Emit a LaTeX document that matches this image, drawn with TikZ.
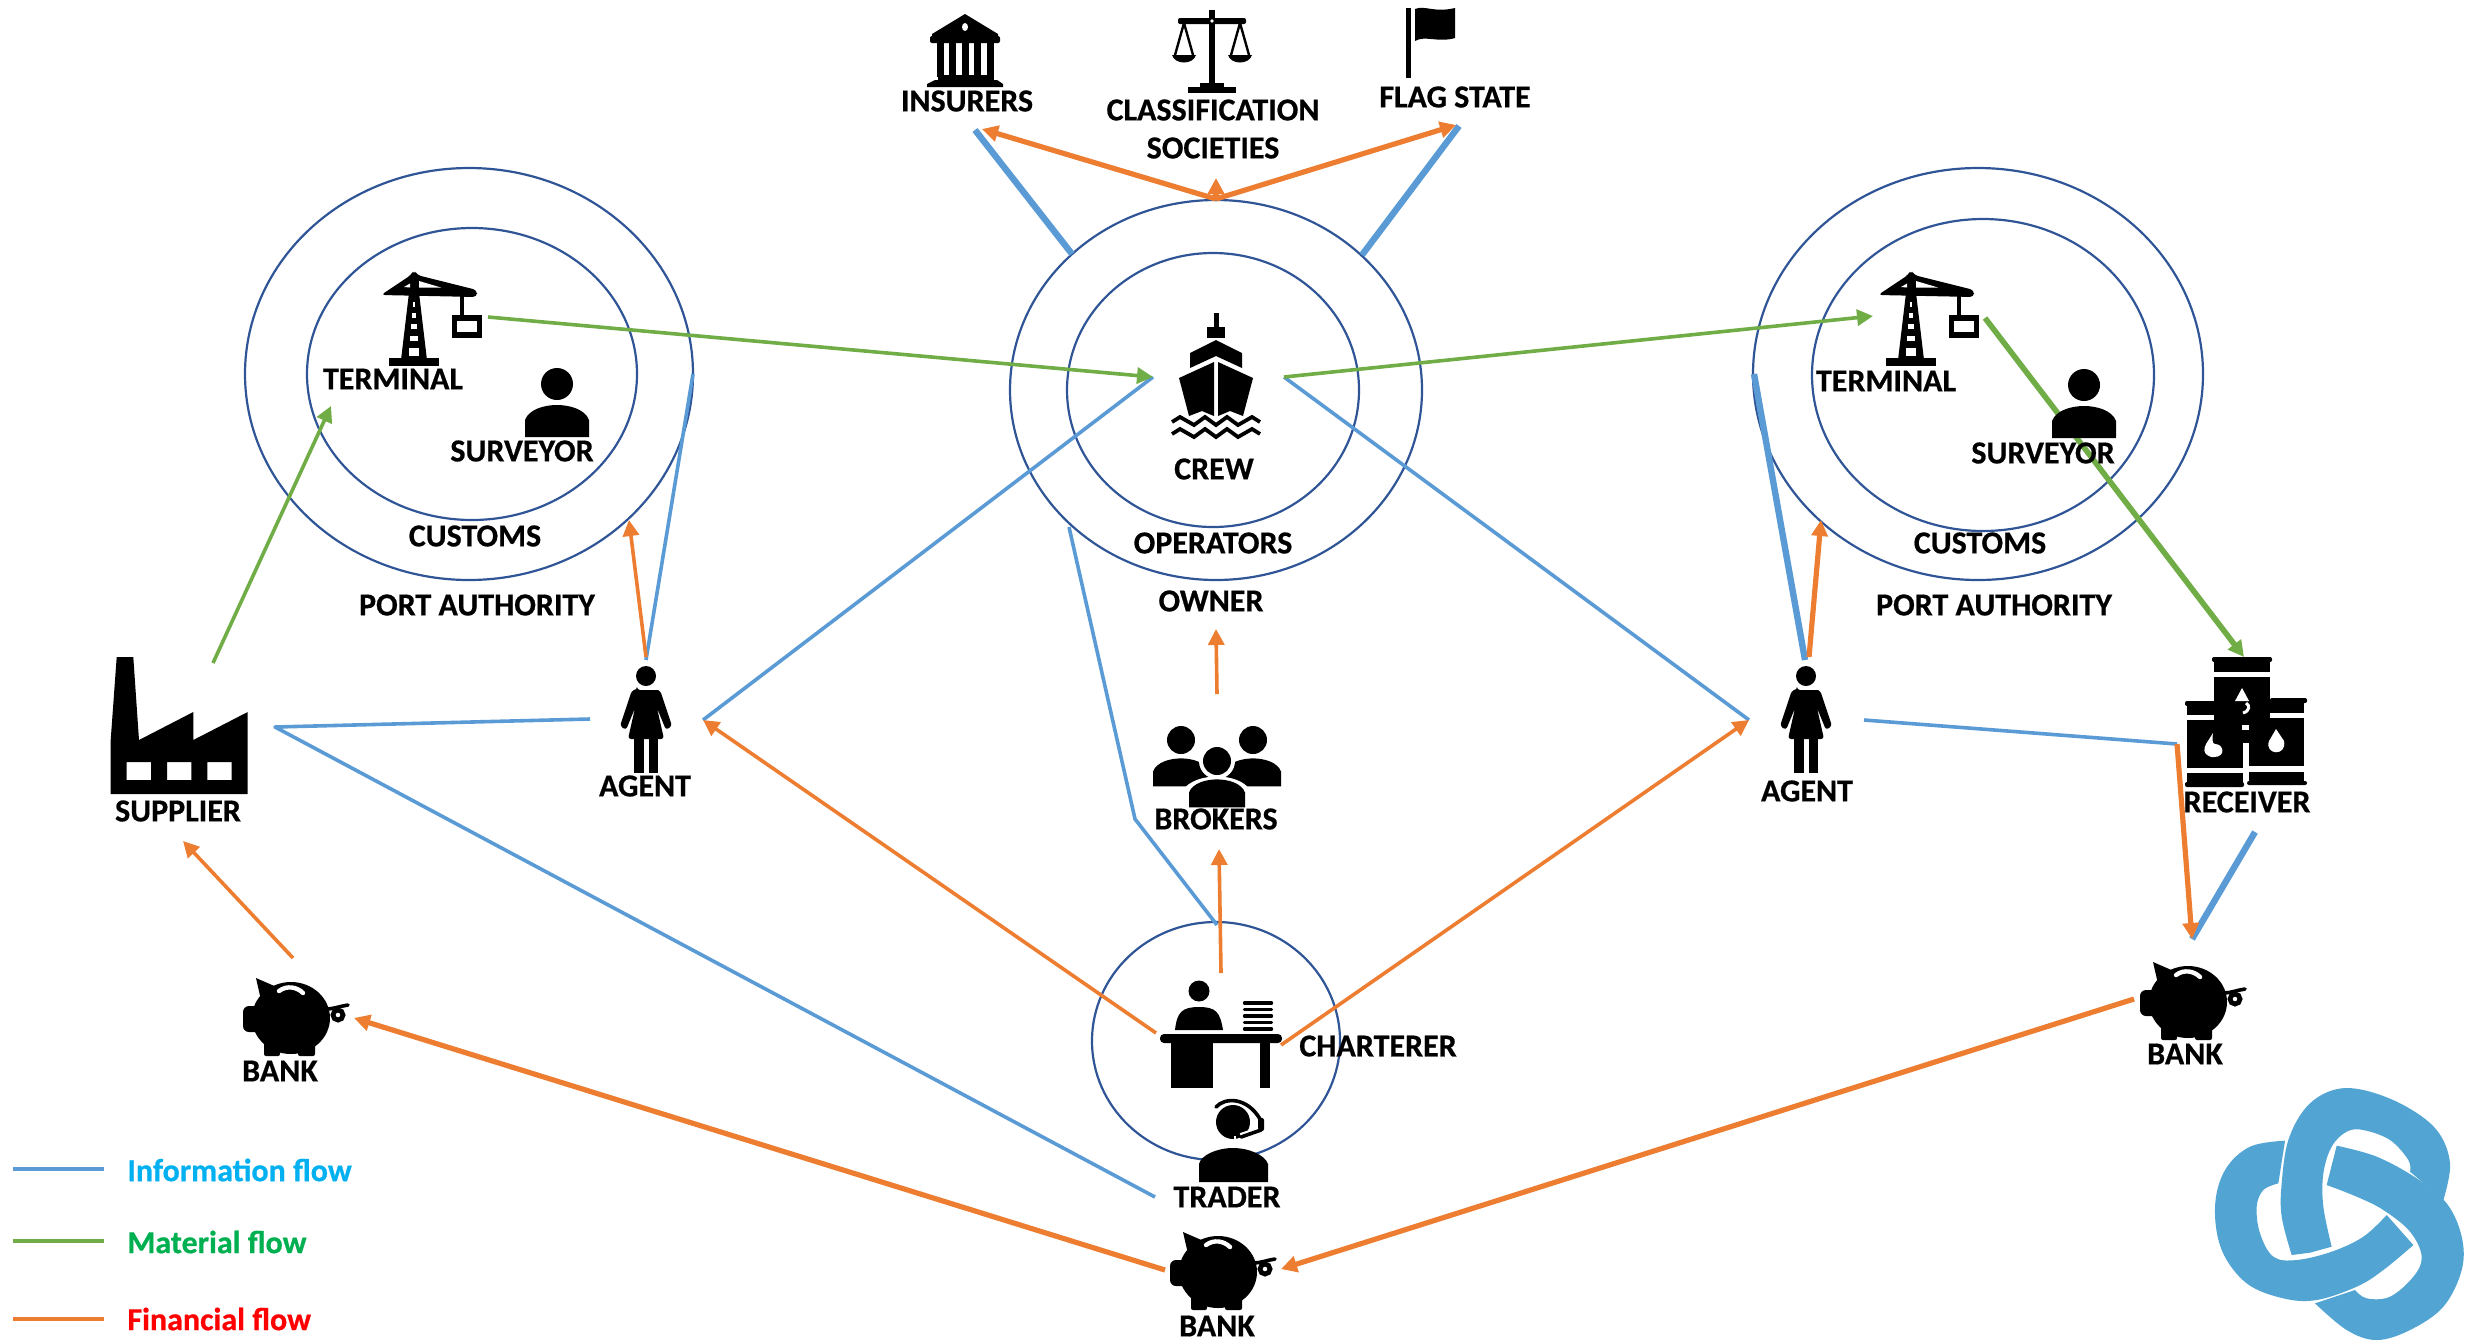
\documentclass[tikz,border=0pt]{standalone}
\usepackage{fontspec}
\setmainfont{Carlito}[BoldFeatures={FakeBold=0.6}]
\usetikzlibrary{arrows.meta,shapes.geometric}
\definecolor{ringc}{HTML}{2F5597}
\definecolor{infoc}{HTML}{5B9BD5}
\definecolor{matc}{HTML}{70AD47}
\definecolor{finc}{HTML}{ED7D31}
\definecolor{knotc}{HTML}{52A4D3}
\definecolor{infot}{HTML}{00B0F0}
\definecolor{matt}{HTML}{00B050}
\tikzset{
  ringnode/.style={ellipse,draw=ringc,line width=1.1pt,inner sep=0pt,fill=none},
  lab/.style={inner sep=0pt,font=\bfseries\fontsize{16}{16}\selectfont,text=black},
  legendlab/.style={inner sep=0pt,anchor=west,font=\bfseries\fontsize{16}{16}\selectfont},
  tipped/.style={-{Triangle[length=8pt,width=8pt]}},
  info/.style={draw=infoc,line width=1.8pt,line join=round},
  infothick/.style={draw=infoc,line width=3.2pt},
  mat/.style={draw=matc,line width=1.8pt,tipped},
  matthick/.style={draw=matc,line width=2.8pt,tipped},
  fin/.style={draw=finc,line width=1.8pt,tipped},
  finthick/.style={draw=finc,line width=2.6pt,tipped},
  pics/pigicon/.style={code={
    \fill (0,0) ellipse [x radius=39,y radius=36];
    \fill[rounded corners=3pt] (-48,-12) rectangle (-28,14);
    \fill (-35,-40) -- (-30,-18) -- (-12,-30) -- cycle;
    \fill[rounded corners=1pt] (-27,18) rectangle (-11,38);
    \fill[rounded corners=1pt] (7,18) rectangle (24,38);
    \draw[white,line width=2.2pt,line cap=round] (-12,-27) .. controls (-4,-33) and (6,-31) .. (12,-25);
    \draw[line width=1.8pt,line cap=round] (36,-9) .. controls (42,-9) and (50,-12) .. (57,-13);
    \draw[line width=2.4pt] (47,-3) circle [radius=5];
  }},
  pics/shipicon/.style={code={
    \fill (-2.5,-65) rectangle (2.5,-40);
    \fill (-9,-51) rectangle (9,-40);
    \fill (0,-38) -- (26,-25) -- (26,-10) -- (0,-22) -- (-26,-10) -- (-26,-25) -- cycle;
    \fill (-2,-16) -- (-37,0) -- (-27,38) -- (-14,33) -- (-2,38) -- cycle;
    \fill (2,-16) -- (37,0) -- (27,38) -- (14,33) -- (2,38) -- cycle;
    \foreach \w in {44,56}{
      \draw[line width=1.9pt,line join=miter] (-44,\w) -- (-36,\w-5) -- (-22,\w+3) -- (-11,\w-5) -- (0,\w+3) -- (11,\w-5) -- (22,\w+3) -- (36,\w-5) -- (44,\w);
    }
  }},
  pics/bankicon/.style={code={
    \fill (0,-37) -- (33,-17) -- (33,-11) -- (-33,-11) -- (-33,-17) -- cycle;
    \fill[rounded corners=1pt] (-35,-15) rectangle (35,-8);
    \fill[white] (0,-24) ellipse [x radius=3,y radius=4];
    \foreach \k in {-26,-13.5,-1,11.5,24}{ \fill (\k-2.5,-10) rectangle (\k+4.5,26); }
    \fill (-27,24) rectangle (29,30);
    \fill (-30,29) -- (32,29) -- (38,33) -- (38,36) -- (-38,36) -- (-38,33) -- cycle;
  }},
  pics/scalesicon/.style={code={
    \fill (-3,-38) rectangle (3,36);
    \fill[rounded corners=1pt] (-34,-30) rectangle (34,-24);
    \fill[white] (0,-27) circle [radius=1.8];
    \fill (-12,35) rectangle (12,39);
    \fill (-24,39) rectangle (24,45);
    \foreach \c in {-28,28}{
      \draw[line width=1.2pt] (\c,-25) -- (\c-9,7);
      \draw[line width=1.2pt] (\c,-25) -- (\c+9,7);
      \fill (\c-12,7) .. controls (\c-9,17) and (\c+9,17) .. (\c+12,7) -- cycle;
    }
  }},
  pics/flagicon/.style={code={
    \fill (-2.5,0) rectangle (2.5,70);
    \fill (7,1) .. controls (17,-3) and (26,5) .. (47,0) -- (47,30) .. controls (30,35) and (17,27) .. (7,33) -- cycle;
  }},
  pics/craneicon/.style={code={
    \fill (-25,90) rectangle (25,98);
    \fill (-13,92) -- (-3,8) -- (3,8) -- (13,92) -- cycle;
    \fill[rounded corners=2pt] (-33,27) -- (-3,7) -- (0,2) -- (3,7) -- (63,22) -- (63,29) -- cycle;
    \fill[white] (-10,19) -- (-4,15.5) -- (-4,19.5) -- cycle;
    \fill[white] (5,13) -- (5,19.5) -- (27,19.5) -- cycle;
    \foreach \ya/\yb/\hw in {34/39/0.8,45/50/1.6,56/61/2.8,68/73/3.7,80/88/5}{ \fill[white] (-\hw,\ya) rectangle (\hw,\yb); }
    \draw[line width=2.4pt] (48,25) -- (48,50);
    \draw[line width=2.8pt,fill=white] (40.5,50) rectangle (65.5,67);
  }},
  pics/personicon/.style={code={
    \fill (0,0) circle [radius=16];
    \fill (-32,53) -- (-32,36) .. controls (-28,25) and (-12,21) .. (0,21) .. controls (12,21) and (28,25) .. (32,36) -- (32,53) -- cycle;
  }},
  pics/womanicon/.style={code={
    \fill (0,0) circle [radius=10];
    \fill[rounded corners=1.5pt] (-9,14) -- (9,14) .. controls (13,14) and (15,17) .. (16,20) -- (26,50) -- (20,54) -- (11,32) -- (18,63) -- (-18,63) -- (-11,32) -- (-20,54) -- (-26,50) -- (-16,20) .. controls (-15,17) and (-13,14) .. (-9,14) -- cycle;
    \fill (-12,62) rectangle (-2.5,97);
    \fill (2.5,62) rectangle (12,97);
  }},
  pics/factoryicon/.style={code={
    \fill[even odd rule] (110.7,794) -- (110.7,740) -- (116.7,657) -- (133.3,657) -- (139,740) -- (193.3,712) -- (193.3,740) -- (247.7,712) -- (247.7,794) -- cycle
      (126.7,762) rectangle (151,780) (167,762) rectangle (191.3,780) (207.3,762) rectangle (231.7,780);
  }},
  pics/drumsicon/.style={code={
    \fill[rounded corners=1pt] (2212,657) rectangle (2272,662);
    \fill (2214,660) rectangle (2270,671.5);
    \fill (2214,677) rectangle (2270,722);
    \fill[rounded corners=1pt] (2185,701) rectangle (2243,706);
    \fill (2187,704) rectangle (2214,715);
    \fill (2187,720) rectangle (2243,768);
    \fill (2187,773) rectangle (2243,785);
    \fill[rounded corners=1pt] (2185,782) rectangle (2244,787);
    \fill[rounded corners=1pt] (2270,698) rectangle (2307,703);
    \fill (2270,701) rectangle (2304,713);
    \fill (2249,718) rectangle (2304,766);
    \fill (2249,772) rectangle (2304,784);
    \fill[rounded corners=1pt] (2247,781) rectangle (2307,785);
    \fill (2243,720) rectangle (2249,743);
    \fill[white] (2242,725) rectangle (2249,730);
    \fill[white] (2242,688) -- (2249,701) -- (2235,701) -- cycle;
    \draw[white,line width=1.5pt] (2246,703) .. controls (2250,705) and (2250,711) .. (2243,713);
    \fill[white] (2213,733) -- (2206,744) .. controls (2200,755) and (2212,758) .. (2214,757) .. controls (2226,757) and (2224,744) .. (2215,744) .. controls (2212,744) and (2212,738) .. (2213,733) -- cycle;
    \fill[white] (2276,729) -- (2269,741) .. controls (2264,755) and (2287,757) .. (2284,741) -- cycle;
  }},
  pics/clerkicon/.style={code={
    \fill (1199,991) circle [radius=10.5];
    \fill (1175,1030) .. controls (1177,1012) and (1182,1007) .. (1199,1007) .. controls (1216,1007) and (1220,1012) .. (1223,1030) -- cycle;
    \fill[rounded corners=2pt] (1160,1034) rectangle (1282,1043);
    \fill (1171,1040) rectangle (1213,1088);
    \fill (1260,1040) rectangle (1270,1088);
    \foreach \p in {1003,1009.5,1016,1022.5,1029}{
      \draw[line width=1.7pt,line cap=round] (1244.5,\p) -- (1271.5,\p);
    }
  }},
  pics/headseticon/.style={code={
    \fill (0,0) circle [radius=17];
    \draw[line width=1.8pt,line cap=round] (-17,-15) .. controls (-8,-25) and (14,-25) .. (27,-3);
    \fill[rounded corners=1pt] (25,-4) rectangle (31,9);
    \draw[white,line width=4pt] (26,9) -- (8,15);
    \draw[line width=1.8pt,line cap=round] (28,8) -- (8,15);
    \fill[white] (1,14) rectangle (3,20);
    \fill (-34,60) -- (-34,42) .. controls (-32,33) and (-16,26) .. (0,26) .. controls (16,26) and (32,33) .. (35,42) -- (35,60) -- cycle;
  }},
  pics/knoticon/.style={code={
    \fill[knotc] plot[smooth,tension=0.6] coordinates {(425,615) (395,500) (395,400) (415,270) (470,170) (550,120) (640,120) (760,165) (860,240) (900,340) (880,450)}
      -- plot[smooth,tension=0.6] coordinates {(780,365) (775,330) (720,270) (640,240) (590,245) (545,290) (520,370) (520,470) (545,590)} -- (480,608) -- cycle;
    \fill[knotc] plot[smooth,tension=0.6] coordinates {(405,272) (300,290) (225,360) (195,470) (215,600) (290,700) (400,745) (500,750) (620,710) (700,660) (790,585)}
      -- plot[smooth,tension=0.6] coordinates {(710,495) (640,560) (545,605) (440,630) (370,620) (330,550) (320,470) (340,420) (385,400)} -- cycle;
    \fill[knotc] plot[smooth,tension=0.6] coordinates {(560,287) (680,320) (800,385) (890,460) (935,560) (935,660) (880,770) (780,840) (680,870) (590,840) (495,760)}
      -- plot[smooth,tension=0.6] coordinates {(615,720) (650,745) (720,740) (790,680) (815,620) (780,545) (700,480) (620,440) (530,405)} -- cycle;
  }},
}
\begin{document}
\begin{tikzpicture}[x=0.5pt,y=-0.5pt]
\useasboundingbox (0,0) rectangle (2466,1340);
% rings
\node[ringnode,minimum width=224pt,minimum height=206pt] (portL) at (469,374) {};
\node[ringnode,minimum width=165pt,minimum height=146pt] (custL) at (472,374) {};
\node[ringnode,minimum width=206pt,minimum height=190pt] (own) at (1216,390) {};
\node[ringnode,minimum width=146pt,minimum height=137pt] (oper) at (1213,390) {};
\node[ringnode,minimum width=225pt,minimum height=206pt] (portR) at (1978,374) {};
\node[ringnode,minimum width=171pt,minimum height=156pt] (custR) at (1983,375) {};
\node[ringnode,minimum width=124pt,minimum height=119pt] (chart) at (1216,1041) {};
% connector ends
\coordinate (insTip) at (975,130);
\coordinate (insBase) at (1072,254);
\coordinate (flagTip) at (1459,126);
\coordinate (flagBase) at (1362,255);
\coordinate (ownTop) at (1216,199);
\coordinate (insFin) at (982,129);
\coordinate (flagFin) at (1456,125);
\coordinate (clsFin) at (1216,178);
\coordinate (termLOut) at (488,317);
\coordinate (shipIn) at (1153,377);
\coordinate (shipOut) at (1284,377);
\coordinate (termRIn) at (1873,316);
\coordinate (agLs) at (703,720);
\coordinate (agRs) at (1749,720);
\coordinate (opBL) at (1069,527);
\coordinate (opBend) at (1135,819);
\coordinate (chTop) at (1217,925);
\coordinate (supE) at (275,727);
\coordinate (agLw) at (590,719);
\coordinate (traderW) at (1155,1197);
\coordinate (agLn) at (646,660);
\coordinate (portLe) at (693,374);
\coordinate (portRw) at (1754,374);
\coordinate (agRn) at (1805,660);
\coordinate (agRe) at (1864,720);
\coordinate (recvW) at (2177,744);
\coordinate (bankRn) at (2192,939);
\coordinate (recvS) at (2255,832);
\coordinate (termROut) at (1985,318);
\coordinate (recvN) at (2244,657);
\coordinate (supN) at (213,663);
\coordinate (termLIn) at (331,406);
\coordinate (brkN) at (1217,694);
\coordinate (ownS) at (1216,629);
\coordinate (chUp) at (1221,973);
\coordinate (brkS) at (1219,849);
\coordinate (chW) at (1156,1033);
\coordinate (chE) at (1281,1045);
\coordinate (agLnF) at (646,657);
\coordinate (custLs) at (629,520);
\coordinate (agRnF) at (1809,657);
\coordinate (custRs) at (1821,520);
\coordinate (bankLn) at (293,958);
\coordinate (supS) at (183,841);
\coordinate (bankBw) at (1165,1270);
\coordinate (bankLe) at (354,1018);
\coordinate (bankRw) at (2134,999);
\coordinate (bankBe) at (1281,1269);
\coordinate (legIa) at (13,1169);
\coordinate (legIb) at (104,1169);
\coordinate (legMa) at (13,1241);
\coordinate (legMb) at (104,1241);
\coordinate (legFa) at (13,1319);
\coordinate (legFb) at (104,1319);
% information flow
\draw[infothick] (insTip) -- (insBase);
\draw[infothick] (flagTip) -- (flagBase);
\draw[info] (agLs) -- (shipIn);
\draw[info] (shipOut) -- (agRs);
\draw[info] (opBL) -- (opBend) -- (chTop);
\draw[info] (agLw) -- (supE) -- (traderW);
\draw[info] (agLn) -- (portLe);
\draw[infothick] (portRw) -- (agRn);
\draw[info] (agRe) -- (recvW);
\draw[infothick] (recvS) -- (bankRn);
% material flow
\draw[mat] (termLOut) -- (shipIn);
\draw[mat] (shipOut) -- (termRIn);
\draw[matthick] (termROut) -- (recvN);
\draw[mat] (supN) -- (termLIn);
% financial flow
\draw[finthick] (ownTop) -- (insFin);
\draw[finthick] (ownTop) -- (flagFin);
\draw[finthick] (ownTop) -- (clsFin);
\draw[fin] (brkN) -- (ownS);
\draw[fin] (chUp) -- (brkS);
\draw[fin] (chW) -- (agLs);
\draw[fin] (chE) -- (agRs);
\draw[fin] (agLnF) -- (custLs);
\draw[finthick] (agRnF) -- (custRs);
\draw[finthick] (recvW) -- (bankRn);
\draw[fin] (bankLn) -- (supS);
\draw[finthick] (bankBw) -- (bankLe);
\draw[finthick] (bankRw) -- (bankBe);
% legend
\draw[info] (legIa) -- (legIb);
\draw[draw=matc,line width=1.8pt] (legMa) -- (legMb);
\draw[draw=finc,line width=1.8pt] (legFa) -- (legFb);
% icons
\pic at (965,51) {bankicon};
\pic at (1212,48) {scalesicon};
\pic at (1408,8) {flagicon};
\pic at (1216,378) {shipicon};
\pic at (414,268) {craneicon};
\pic at (1911,268) {craneicon};
\pic at (557,384) {personicon};
\pic at (2084,385) {personicon};
\pic at (646,676) {womanicon};
\pic at (1806,676) {womanicon};
\pic {factoryicon};
\pic {drumsicon};
\pic {clerkicon};
\pic at (1233,1122) {headseticon};
\pic at (291,1018) {pigicon};
\pic at (2188,1002) {pigicon};
\pic at (1218,1272) {pigicon};
\pic[scale=0.875] at (1181,740) {personicon};
\pic[scale=0.875] at (1253,740) {personicon};
\fill[white] (1217,761) circle [radius=18];
\fill[white] (1183,810) -- (1183,790) .. controls (1195,772) and (1239,772) .. (1250,790) -- (1250,810) -- cycle;
\pic[scale=0.875] at (1217,761) {personicon};
\begin{scope}[shift={(2150,1050)},x=0.16667pt,y=-0.16667pt]
\pic at (0,0) {knoticon};
\end{scope}
% labels
\node[lab] (tInsurers) at (967,101) {INSURERS};
\node[lab] (tClass) at (1213,110) {CLASSIFICATION};
\node[lab] (tSoc) at (1213,148) {SOCIETIES};
\node[lab] (tFlag) at (1455,97) {FLAG STATE};
\node[lab] (tTermL) at (393,379) {TERMINAL};
\node[lab] (tSurvL) at (522,451) {SURVEYOR};
\node[lab] (tCustL) at (475,536) {CUSTOMS};
\node[lab] (tPortL) at (477,605) {PORT AUTHORITY};
\node[lab] (tCrew) at (1214,469) {CREW};
\node[lab] (tOper) at (1213,543) {OPERATORS};
\node[lab] (tOwner) at (1211,601) {OWNER};
\node[lab] (tTermR) at (1886,381) {TERMINAL};
\node[lab] (tSurvR) at (2043,453) {SURVEYOR};
\node[lab] (tCustR) at (1980,543) {CUSTOMS};
\node[lab] (tPortR) at (1994,605) {PORT AUTHORITY};
\node[lab] (tAgL) at (645,786) {AGENT};
\node[lab] (tAgR) at (1807,791) {AGENT};
\node[lab] (tSup) at (178,811) {SUPPLIER};
\node[lab] (tBrk) at (1216,819) {BROKERS};
\node[lab] (tRecv) at (2247,802) {RECEIVER};
\node[lab] (tBankL) at (280,1071) {BANK};
\node[lab] (tBankR) at (2185,1054) {BANK};
\node[lab] (tChart) at (1378,1046) {CHARTERER};
\node[lab] (tTrader) at (1227,1197) {TRADER};
\node[lab] (tBankB) at (1217,1326) {BANK};
\node[legendlab,text=infot] (legI) at (127,1170) {Information flow};
\node[legendlab,text=matt] (legM) at (127,1242) {Material flow};
\node[legendlab,text=red] (legF) at (127,1319) {Financial flow};
\end{tikzpicture}
\end{document}
